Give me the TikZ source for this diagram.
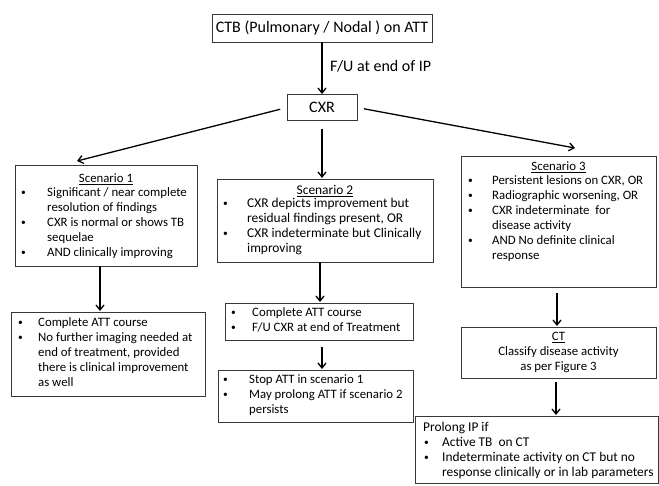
\documentclass[tikz,border=0pt]{standalone}
\usepackage{fontspec}
\setmainfont{Carlito}
\usetikzlibrary{arrows.meta}
\newcommand{\bu}[1]{\makebox[#1][l]{\hspace{1pt}\raisebox{0.8pt}{\fontsize{9.5}{9.5}\selectfont\textbullet}}}
\newcommand{\cn}[1]{\hspace*{#1}}
\begin{document}
\begin{tikzpicture}[x=1pt,y=-1pt,
  bx/.style={draw=black!78, line width=0.9pt, inner sep=0pt, outer sep=0pt},
  txt/.style={inner sep=0pt, font=\fontsize{12.8}{15}\selectfont, align=left, anchor=north west},
  txtb/.style={txt, font=\fontsize{13.4}{15}\selectfont},
  big/.style={font=\fontsize{16}{19}\selectfont},
  arr/.style={line width=1.3pt, -{Straight Barb[length=5pt,width=8pt]}}]
\useasboundingbox (0,0) rectangle (659,485);

% top
\node[bx, big, minimum width=220pt, minimum height=28pt] (top) at (322,28) {CTB (Pulmonary / Nodal ) on ATT};
\node[bx, big, minimum width=70pt, minimum height=26pt] (cxr) at (322,107.5) {CXR};
\node[big, anchor=west, inner sep=0pt] (fu) at (330,66) {F/U at end of IP};

% scenario 1
\node[bx, minimum width=182pt, minimum height=101pt] (s1) at (106,215.5) {};
\node[txt, anchor=center] (s1t) at (106,179) {\underline{Scenario 1}};
\node[txt] (s1l) at (20,187.5) {\bu{27pt}Significant / near complete\\\cn{27pt}resolution of findings\\\bu{27pt}CXR is normal or shows TB\\\cn{27pt}sequelae\\\bu{27pt}AND clinically improving};

% scenario 2
\node[bx, minimum width=216pt, minimum height=83pt] (s2) at (325,220.5) {};
\node[txtb, anchor=center] (s2t) at (325,191) {\underline{Scenario 2}};
\node[txtb] (s2l) at (222,198) {\bu{25pt}CXR depicts improvement but\\\cn{25pt}residual findings present, OR\\\bu{25pt}CXR indeterminate but Clinically\\\cn{25pt}improving};

% scenario 3
\node[bx, minimum width=195pt, minimum height=131pt] (s3) at (558.5,221.5) {};
\node[txt, anchor=center] (s3t) at (558.5,167) {\underline{Scenario 3}};
\node[txt] (s3l) at (467,175.5) {\bu{25pt}Persistent lesions on CXR, OR\\\bu{25pt}Radiographic worsening, OR\\\bu{25pt}CXR indeterminate\ \ for\\\cn{25pt}disease activity\\\bu{25pt}AND No definite clinical\\\cn{25pt}response};

% outcome 1
\node[bx, minimum width=194pt, minimum height=84pt] (o1) at (108,354) {};
\node[txt] (o1l) at (17,317.5) {\bu{21pt}Complete ATT course\\\bu{21pt}No further imaging needed at\\\cn{21pt}end of treatment, provided\\\cn{21pt}there is clinical improvement\\\cn{21pt}as well};

% scenario 2 chain
\node[bx, minimum width=188pt, minimum height=37pt] (c2) at (319,321.5) {};
\node[txt] (c2l) at (230,307.5) {\bu{22pt}Complete ATT course\\\bu{22pt}F/U CXR at end of Treatment};
\node[bx, minimum width=195pt, minimum height=52pt] (st) at (315.5,396) {};
\node[txt] (stl) at (222,374.5) {\bu{27pt}Stop ATT in scenario 1\\\bu{27pt}May prolong ATT if scenario 2\\\cn{27pt}persists};

% scenario 3 chain
\node[bx, minimum width=195pt, minimum height=51pt, align=center, font=\fontsize{12.8}{15}\selectfont] (ct) at (558.5,352.5) {\underline{CT}\\Classify disease activity\\as per Figure 3};
\node[bx, minimum width=243pt, minimum height=67pt] (pr) at (536.5,449.5) {};
\node[txtb] (prl) at (423,421.5) {Prolong IP if\\\bu{19pt}Active TB\ \ on CT\\\bu{19pt}Indeterminate activity on CT but no\\\cn{19pt}response clinically or in lab parameters};

% connectors
\draw[arr, shorten >=0.5pt] (top.south) -- (cxr.north);
\draw[arr, shorten <=7pt] (cxr.west) -- ([xshift=-29pt,yshift=4pt]s1.north);
\draw[arr, shorten <=7pt] (cxr.east) -- ([xshift=16.5pt,yshift=8pt]s3.north);
\draw[arr, shorten <=8pt, shorten >=1pt] (cxr.south) -- (cxr.south |- s2.north);
\draw[arr, shorten >=1pt] ([xshift=-6pt]s1.south) -- ([xshift=-6pt]s1.south |- o1.north);
\draw[arr, shorten >=1pt] ([xshift=-5pt]s2.south) -- ([xshift=-5pt]s2.south |- c2.north);
\draw[arr, shorten <=7pt, shorten >=1pt] ([xshift=3pt]c2.south) -- ([xshift=3pt]c2.south |- st.north);
\draw[arr, shorten <=6pt, shorten >=1pt] ([xshift=-1.5pt]s3.south) -- ([xshift=-1.5pt]s3.south |- ct.north);
\draw[arr, shorten <=4pt, shorten >=1pt] ([xshift=-2.5pt]ct.south) -- ([xshift=-2.5pt]ct.south |- pr.north);
\end{tikzpicture}
\end{document}
